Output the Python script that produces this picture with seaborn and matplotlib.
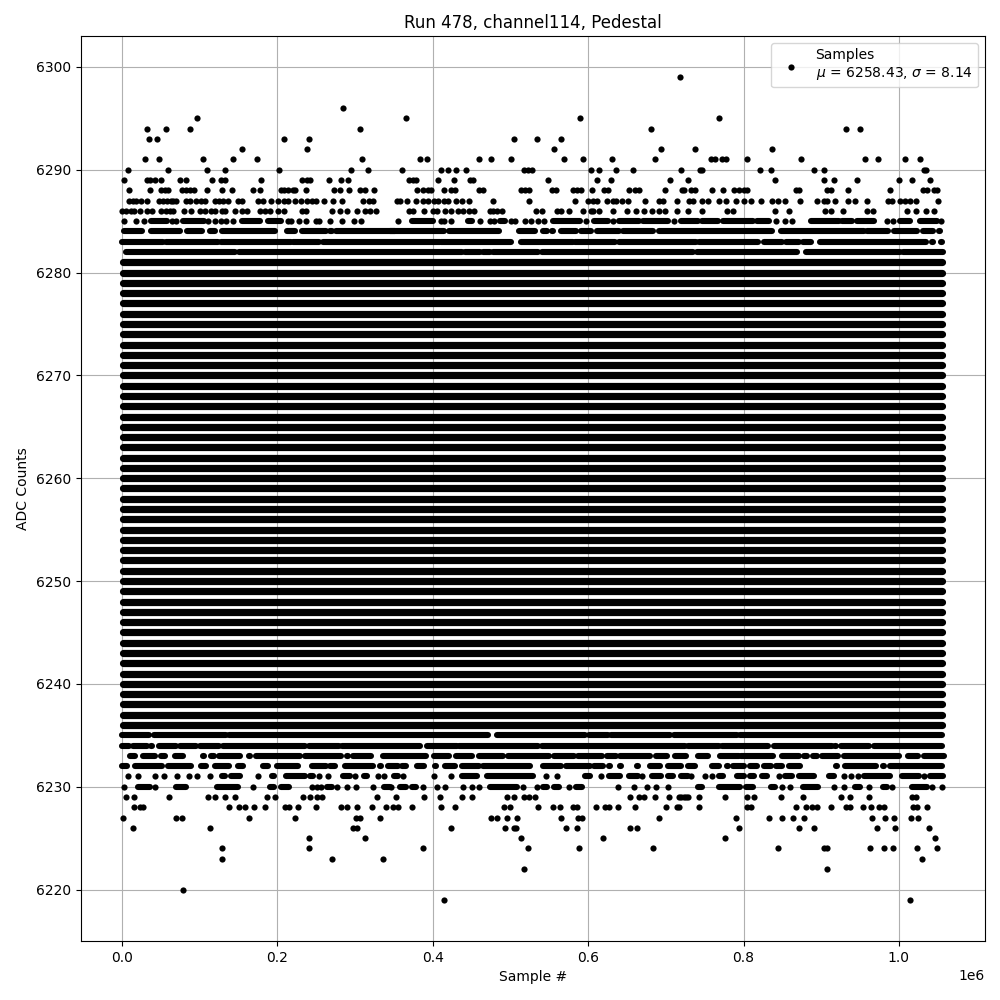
import matplotlib
matplotlib.use("Agg")
import matplotlib.pyplot as plt
import pandas as pd
import seaborn as sns

# All x values are sample numbers in thousands.
TITLE = "Run 478, channel114, Pedestal"
XLABEL = "Sample #"
YLABEL = "ADC Counts"
LEGEND_LABEL = "Samples\n$\\mu$ = 6258.43, $\\sigma$ = 8.14"

# --- isolated samples per ADC level (top tail) ---
pts_6299 = [718]
pts_6296 = [285]
pts_6295 = [97, 365, 590, 769]
pts_6294 = [32, 57, 87, 306, 681, 932, 950]
pts_6293 = [34, 45, 208, 241, 505, 534, 565]
pts_6292 = [155, 238, 556, 694, 737, 837]
pts_6291 = [29, 47, 104, 143, 174, 309, 383, 392, 459, 475, 501, 569, 593, 631, 686,
            758, 763, 772, 777, 804, 874, 957, 973, 1008, 1027]
pts_6290 = [7, 59, 109, 132, 202, 295, 317, 360, 410, 420, 430, 443, 518, 522, 528, 604,
            614, 636, 658, 719, 744, 747, 821, 836, 891, 904, 1032, 1035]
pts_6289 = [3, 32, 36, 43, 50, 75, 82, 116, 127, 132, 179, 231, 238, 242, 267, 282, 291,
            369, 375, 379, 407, 427, 448, 452, 548, 611, 629, 705, 729, 841, 904, 916,
            946, 1000, 1017, 1040]
pts_6288 = [9, 36, 50, 55, 59, 77, 82, 88, 93, 109, 129, 142, 168, 178, 204, 208, 213, 220,
            223, 237, 273, 280, 292, 306, 313, 324, 380, 387, 394, 398, 414, 424, 429, 459,
            464, 514, 519, 524, 554, 559, 581, 586, 591, 605, 620, 626, 653, 660, 665, 699,
            721, 723, 733, 738, 760, 774, 788, 794, 801, 805, 867, 872, 908, 913, 934, 989,
            1031, 1036, 1045, 1049]
pts_6287 = [9, 14, 18, 24, 32, 48, 53, 58, 63, 66, 70, 82, 87, 95, 101, 107, 119, 125, 130,
            136, 149, 154, 175, 181, 192, 201, 208, 214, 222, 230, 238, 244, 250, 260, 272,
            283, 310, 318, 323, 354, 358, 367, 378, 387, 394, 401, 407, 414, 419, 430, 437,
            446, 477, 524, 583, 600, 606, 611, 624, 632, 636, 644, 651, 673, 691, 696, 714,
            730, 735, 746, 754, 768, 778, 790, 801, 810, 823, 837, 845, 853, 873, 895, 903,
            908, 918, 934, 943, 959, 986, 991, 1002, 1008, 1014, 1022, 1050]
pts_6286 = [0, 5, 11, 15, 23, 32, 39, 50, 56, 62, 66, 80, 89, 100, 107, 114, 120, 129, 132,
            146, 155, 161, 178, 184, 190, 201, 209, 232, 237, 270, 280, 290, 302, 313, 319,
            327, 369, 375, 389, 400, 405, 416, 423, 433, 439, 446, 453, 473, 478, 483, 489,
            533, 540, 560, 565, 575, 593, 604, 606, 614, 632, 650, 661, 672, 682, 691, 699,
            715, 729, 746, 779, 786, 840, 859, 905, 912, 928, 959, 967, 1011, 1022, 1035, 1045]
pts_6285 = [3, 18, 28, 64, 69, 110, 120, 127, 134, 143, 213, 218, 228, 237, 249, 254, 268,
            283, 299, 308, 355, 410, 415, 424, 461, 474, 479, 501, 506, 519, 527, 536, 543,
            597, 632, 711, 842, 853, 863, 985, 993, 1054]

# --- isolated samples per ADC level (bottom tail) ---
pts_6231 = [7, 20, 43, 54, 71, 86, 97, 113, 175, 253, 265, 300, 330, 337, 361, 402, 423,
            546, 560, 617, 669, 733, 751, 760, 846, 930, 939, 948, 1032]
pts_6230 = [2, 43, 244, 251, 256, 277, 290, 301, 323, 169, 346, 387, 406, 416, 439, 450, 459,
            516, 534, 575, 638, 659, 676, 687, 703, 849, 860, 916, 930, 962, 991, 1043, 1056]
pts_6229 = [5, 15, 61, 111, 120, 133, 145, 186, 197, 233, 242, 251, 258, 328, 353, 389, 409,
            438, 450, 495, 504, 518, 524, 532, 654, 665, 672, 686, 704, 717, 719, 723, 726,
            728, 743, 776, 805, 813, 848, 876, 925, 937, 962, 1017, 1022]
pts_6228 = [15, 23, 27, 138, 151, 158, 170, 184, 210, 215, 227, 249, 282, 290, 303, 322, 340,
            349, 355, 373, 411, 429, 492, 500, 536, 555, 564, 581, 586, 610, 622, 627, 638,
            660, 700, 715, 717, 743, 804, 810, 867, 881, 888, 895, 913, 932, 937, 954, 964,
            975, 981, 1018, 1023, 1036]
pts_6227 = [1, 69, 77, 164, 222, 301, 306, 332, 475, 483, 496, 509, 565, 587, 592, 691, 790,
            833, 850, 864, 878, 966, 982, 994, 1016, 1025]
pts_6226 = [14, 113, 297, 303, 423, 493, 504, 507, 572, 586, 654, 663, 794, 872, 891, 972,
            995, 1039]
pts_6225 = [240, 313, 513, 619, 776, 1047]
pts_6224 = [129, 241, 388, 522, 588, 683, 844, 904, 908, 963, 981, 993, 1023, 1049]
pts_6223 = [129, 270, 336, 1030]
pts_6222 = [518, 907]
pts_6220 = [79]
pts_6219 = [415, 1014]

# --- contiguous stretches of samples (start, stop) per ADC level ---
runs_6285 = [(37, 58), (78, 105), (155, 178), (188, 205), (373, 400), (445, 451), (486, 493),
             (555, 590), (608, 626), (640, 666), (670, 703), (720, 741), (747, 767), (774, 812),
             (817, 833), (887, 923), (927, 940), (946, 968), (1002, 1014), (1027, 1049)]
runs_6284 = [(2, 26), (37, 75), (83, 103), (113, 119), (129, 197), (212, 222), (232, 262),
             (268, 270), (276, 351), (345, 415), (421, 485), (511, 532), (542, 547), (565, 584),
             (591, 604), (611, 640), (645, 683), (691, 837), (848, 955), (959, 986), (994, 1023),
             (1031, 1044), (495, 496), (504, 505), (554, 555), (1052, 1053)]
runs_6283 = [(0, 53), (57, 124), (127, 217), (220, 253), (259, 409), (411, 501), (514, 581),
             (583, 635), (640, 739), (743, 819), (827, 850), (855, 872), (877, 887), (899, 1035),
             (1043, 1044), (1054, 1055)]
runs_6282 = [(5, 146), (150, 437), (442, 461), (465, 473), (478, 536), (541, 735), (740, 869),
             (880, 1002), (1005, 1057)]
runs_6235 = [(0, 34), (41, 134), (138, 471), (477, 478), (483, 596), (601, 626), (629, 706),
             (711, 791), (796, 1056)]
runs_6234 = [(0, 9), (14, 32), (37, 38), (48, 69), (74, 95), (100, 125), (130, 235), (241, 279),
             (283, 383), (393, 431), (434, 536), (540, 725), (729, 768), (772, 831), (839, 914),
             (918, 919), (926, 962), (968, 1055)]
runs_6233 = [(10, 16), (27, 42), (50, 55), (68, 79), (104, 105), (114, 118), (125, 152),
             (164, 165), (172, 229), (235, 282), (290, 291), (297, 321), (336, 391), (401, 421),
             (430, 451), (459, 491), (497, 549), (556, 582), (587, 618), (624, 636), (641, 680),
             (687, 701), (712, 726), (741, 754), (770, 794), (797, 838), (849, 872), (878, 882),
             (889, 895), (901, 922), (930, 1000), (1012, 1025), (1032, 1058)]
runs_6232 = [(0, 6), (16, 51), (59, 89), (102, 108), (120, 137), (149, 156), (181, 188),
             (199, 227), (235, 236), (244, 262), (268, 274), (287, 323), (332, 333), (342, 355),
             (360, 365), (380, 389), (396, 397), (403, 404), (416, 429), (438, 460), (465, 525),
             (542, 565), (572, 602), (608, 619), (627, 628), (641, 642), (663, 664), (679, 692),
             (703, 720), (728, 738), (759, 768), (779, 780), (787, 801), (809, 818), (827, 835),
             (842, 850), (858, 873), (880, 881), (889, 890), (898, 899), (907, 908), (919, 920),
             (931, 971), (980, 981), (989, 1055)]
runs_6231 = [(128, 133), (140, 152), (193, 196), (211, 235), (242, 246), (285, 293), (312, 315),
             (350, 355), (438, 457), (470, 529), (596, 602), (627, 641), (653, 664), (682, 694),
             (703, 709), (720, 728), (768, 773), (791, 801), (809, 813), (824, 830), (854, 863),
             (871, 891), (910, 917), (955, 989), (1004, 1026), (1040, 1057)]
runs_6230 = [(20, 36), (70, 82), (122, 149), (191, 196), (205, 215), (264, 270), (337, 345),
             (358, 365), (373, 378), (473, 509), (542, 547), (556, 563), (584, 592), (741, 747),
             (768, 796), (803, 812), (836, 840), (877, 896), (944, 950), (980, 985), (1017, 1036)]

# --- fully saturated ADC levels ---
saturated_levels = [6241, 6242, 6243, 6244, 6245, 6246, 6247, 6248, 6249, 6250, 6251, 6252,
                    6253, 6254, 6255, 6256, 6257, 6258, 6259, 6260, 6261, 6262, 6263, 6264,
                    6265, 6266, 6267, 6268, 6269, 6270, 6271, 6272, 6273, 6274, 6275]
fringe_levels = [6236, 6237, 6238, 6239, 6240, 6276, 6277, 6278, 6279, 6280, 6281]
first_sample = 1
last_sample = 1056

point_rows = {6299: pts_6299, 6296: pts_6296, 6295: pts_6295, 6294: pts_6294, 6293: pts_6293,
              6292: pts_6292, 6291: pts_6291, 6290: pts_6290, 6289: pts_6289, 6288: pts_6288,
              6287: pts_6287, 6286: pts_6286, 6285: pts_6285, 6231: pts_6231, 6230: pts_6230,
              6229: pts_6229, 6228: pts_6228, 6227: pts_6227, 6226: pts_6226, 6225: pts_6225,
              6224: pts_6224, 6223: pts_6223, 6222: pts_6222, 6220: pts_6220, 6219: pts_6219}
run_rows = {6285: runs_6285, 6284: runs_6284, 6283: runs_6283, 6282: runs_6282, 6235: runs_6235,
            6234: runs_6234, 6233: runs_6233, 6232: runs_6232, 6231: runs_6231, 6230: runs_6230}


def runs_frame(rows):
    recs = []
    uid = 0
    for level, runs in rows.items():
        for start, stop in runs:
            recs.append({"x": start * 1000, "y": level, "run": uid})
            recs.append({"x": stop * 1000, "y": level, "run": uid})
            uid += 1
    return pd.DataFrame(recs)


points = pd.DataFrame([{"x": v * 1000, "y": level}
                       for level, vals in point_rows.items() for v in vals])
edge_runs = runs_frame(run_rows)
fringe_runs = runs_frame({lv: [(first_sample, last_sample)] for lv in fringe_levels})
core_runs = runs_frame({lv: [(first_sample, last_sample)] for lv in saturated_levels})

fig, ax = plt.subplots(figsize=(10, 10), dpi=100)
for frame, width in ((core_runs, 5.2), (fringe_runs, 5.2), (edge_runs, 4.4)):
    sns.lineplot(data=frame, x="x", y="y", units="run", estimator=None, sort=False,
                 color="black", linewidth=width, solid_capstyle="round", legend=False,
                 errorbar=None, ax=ax)
sns.scatterplot(data=points, x="x", y="y", color="black", s=20, linewidth=0, marker="o",
                label=LEGEND_LABEL, ax=ax, zorder=3)

ax.grid(True)
ax.set_title(TITLE)
ax.set_xlabel(XLABEL)
ax.set_ylabel(YLABEL)
ax.legend(loc="upper right")
fig.subplots_adjust(left=0.081, right=0.985, top=0.964, bottom=0.059)
fig.savefig("out.png", dpi=100)
